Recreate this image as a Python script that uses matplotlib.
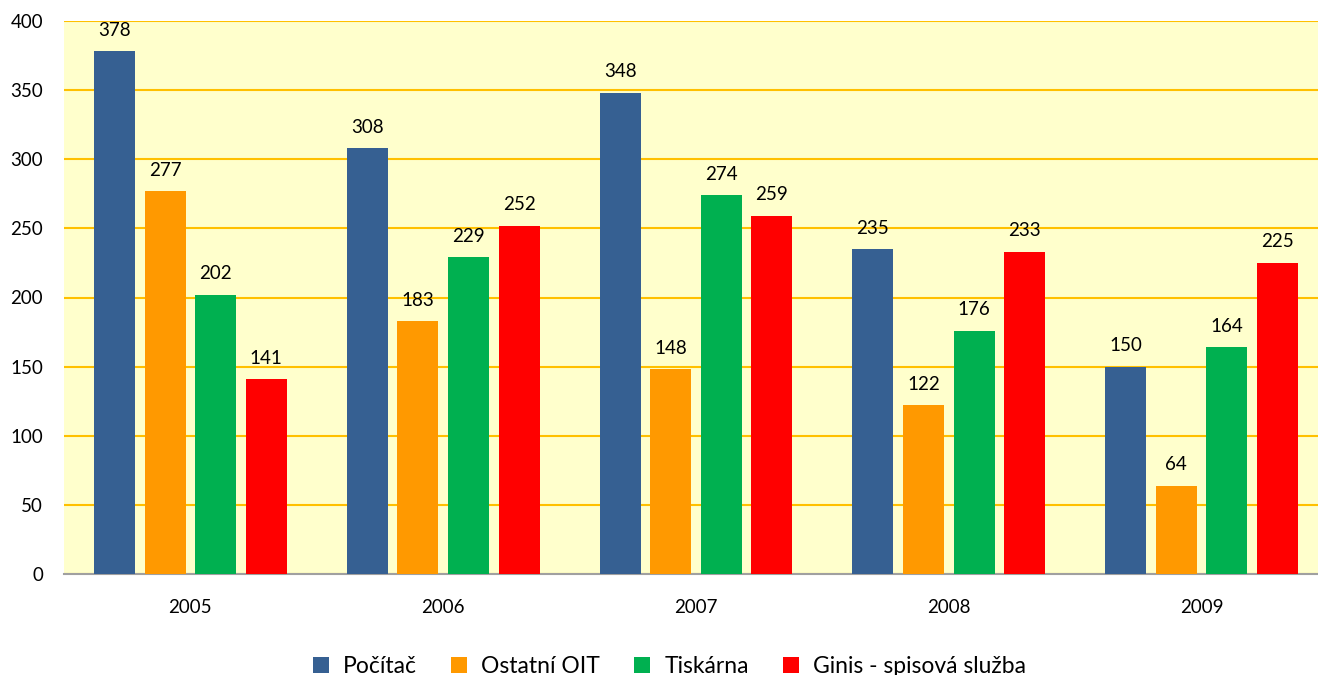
import numpy as np
import matplotlib.pyplot as plt

plt.rcParams['font.family'] = ['Lato', 'DejaVu Sans']

years = ['2005', '2006', '2007', '2008', '2009']
series_names = ['Počítač', 'Ostatní OIT', 'Tiskárna', 'Ginis - spisová služba']
pocitac = [378, 308, 348, 235, 150]
ostatni = [277, 183, 148, 122, 64]
tiskarna = [202, 229, 274, 176, 164]
ginis = [141, 252, 259, 233, 225]
colors = ['#366092', '#FF9900', '#00B050', '#FF0000']

fig = plt.figure(figsize=(13.18, 6.75), dpi=100)
# plot area runs a little past the right edge of the picture
ax = fig.add_axes([64 / 1318, 1 - 574 / 675, (1328 - 64) / 1318, 553 / 675])
ax.set_facecolor('#FFFFCC')

x = np.arange(len(years))
step = 0.2
width = 0.162
all_series = [pocitac, ostatni, tiskarna, ginis]
for i, (vals, name, col) in enumerate(zip(all_series, series_names, colors)):
    pos = x + (i - 1.5) * step
    bars = ax.bar(pos, vals, width, color=col, label=name, zorder=3)
    for b, v in zip(bars, vals):
        ax.text(b.get_x() + b.get_width() / 2, v + 9, str(v),
                ha='center', va='bottom', fontsize=13.5, color='black')

ax.set_xlim(-0.5, len(years) - 0.5)
ax.set_ylim(0, 400)
ax.set_yticks(range(0, 401, 50))
ax.set_xticks(x)
ax.set_xticklabels(years)
ax.yaxis.grid(True, color='#FFC000', linewidth=1.5, zorder=0)
ax.set_axisbelow(True)
for s in ['top', 'right', 'left']:
    ax.spines[s].set_visible(False)
ax.spines['bottom'].set_color('#A0A0A0')
ax.spines['bottom'].set_linewidth(1.5)
ax.tick_params(axis='both', length=0, labelsize=13.5, colors='black')
ax.tick_params(axis='x', pad=18)
ax.tick_params(axis='y', pad=15)

fig.legend(loc='center', bbox_to_anchor=(0.508, 0.012), ncol=4, frameon=False,
           fontsize=16.5, handlelength=0.7, handleheight=0.7, columnspacing=1.5,
           handletextpad=0.6)

fig.savefig('out.png', dpi=100, facecolor='white')
